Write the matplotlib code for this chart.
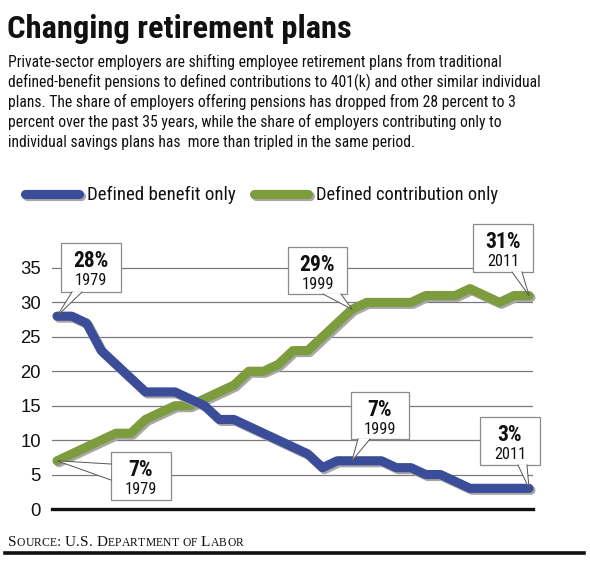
import numpy as np
import matplotlib
matplotlib.use('Agg')
import matplotlib.pyplot as plt
import matplotlib.patheffects as pe
from matplotlib.lines import Line2D
from matplotlib.patches import Rectangle, Polygon
from matplotlib import font_manager as fm

years = list(range(1979, 2012))
benefit = [28, 28, 27, 23, 21, 19, 17, 17, 17, 16, 15, 13, 13, 12, 11, 10, 9, 8, 6,
           7, 7, 7, 7, 6, 6, 5, 5, 4, 3, 3, 3, 3, 3]
contrib = [7, 8, 9, 10, 11, 11, 13, 14, 15, 15, 16, 17, 18, 20, 20, 21, 23, 23, 25,
           27, 29, 30, 30, 30, 30, 31, 31, 31, 32, 31, 30, 31, 31]
yticks = [0, 5, 10, 15, 20, 25, 30, 35]

title = 'Changing retirement plans'
body = ['Private-sector employers are shifting employee retirement plans from traditional',
        'defined-benefit pensions to defined contributions to 401(k) and other similar individual',
        'plans. The share of employers offering pensions has dropped from 28 percent to 3',
        'percent over the past 35 years, while the share of employers contributing only to',
        'individual savings plans has  more than tripled in the same period.']
legend_labels = ['Defined benefit only', 'Defined contribution only']
source_parts = ['Source:', 'U.S.', 'Department', 'of', 'Labor']

blue = '#3b4d99'
green = '#7c9c3e'

# look for a condensed sans; fall back to Liberation Sans and shrink to fit
names = {f.name for f in fm.fontManager.ttflist}
narrow, stretch = 'Liberation Sans', 'normal'
for cand in ['Liberation Sans Narrow', 'Roboto Condensed', 'DejaVu Sans Condensed', 'Open Sans Condensed']:
    if cand in names:
        narrow = cand
        break
else:
    for f in fm.fontManager.ttflist:
        if f.name in ('DejaVu Sans', 'Roboto', 'Open Sans') and f.stretch in ('condensed', 'semi-condensed'):
            narrow, stretch = f.name, f.stretch
            break

W, H = 590, 561
fig = plt.figure(figsize=(W / 100, H / 100), dpi=100)
r = fig.canvas.get_renderer()

def px(x, y):
    # figure fraction from top-left pixel coords
    return x / W, 1 - y / H

def fit(txt, width, maxsize=None):
    w = txt.get_window_extent(r).width
    size = txt.get_fontsize() * width / w
    if maxsize:
        size = min(size, maxsize)
    txt.set_fontsize(size)
    return size

def ntext(x, y, s, **kw):
    return fig.text(*px(x, y), s, family=narrow, fontstretch=stretch, color='#111111',
                    va='baseline', **kw)

# axes: x from 52 to 533 px, zero line at y=509, 6.886 px per unit
ax_left, ax_right, ax_bottom = 52, 533, 509
ppu = 6.886
ymax = 38
ax = fig.add_axes([ax_left / W, 1 - ax_bottom / H, (ax_right - ax_left) / W, ymax * ppu / H])
ppy = 14.75
ax.set_xlim(1979 - 5 / ppy, 2011 + 4 / ppy)
ax.set_ylim(0, ymax)
for s in ax.spines.values():
    s.set_visible(False)
ax.set_xticks([])
ax.set_yticks(yticks)
ax.tick_params(axis='y', length=0, pad=8, labelsize=13.3)
for lab in ax.get_yticklabels():
    lab.set_fontfamily('Liberation Sans')
    lab.set_color('#111111')
for t in yticks[1:]:
    ax.axhline(t, color='#7a7a7a', lw=0.9, zorder=1)
ax.axhline(0, color='#111111', lw=2.4, zorder=1, clip_on=False)

shadow = [pe.SimpleLineShadow(offset=(1.4, -1.4), shadow_color='#a8a8a8', alpha=1.0), pe.Normal()]
ax.plot(years, contrib, color=green, lw=6.6, solid_capstyle='round', solid_joinstyle='round',
        path_effects=shadow, zorder=3, clip_on=False)
ax.plot(years, benefit, color=blue, lw=6.6, solid_capstyle='round', solid_joinstyle='round',
        path_effects=shadow, zorder=4, clip_on=False)

# title and intro
tt = ntext(7, 38, title, fontweight='bold', fontsize=27)
fit(tt, 345)
first = ntext(8, 67, body[0], fontsize=12.6)
bsize = fit(first, 497)
for i, line in enumerate(body[1:], start=1):
    ntext(8, 67 + i * 20.1, line, fontsize=bsize)

# legend
for (x0, x1, col, lab, wd) in [(25, 79, blue, legend_labels[0], 149), (254, 308, green, legend_labels[1], 182)]:
    fig.add_artist(Line2D([x0 / W, x1 / W], [1 - 194 / H] * 2, color=col, lw=6.6,
                          solid_capstyle='round', path_effects=shadow))
    lt = ntext(x1 + 8, 199.5, lab, fontsize=15)
    fit(lt, wd)

# callout boxes: (series, year, box left, top, right, bottom, tail side, tail base a, b)
callouts = [
    (benefit, 1979, 61, 243, 121, 292, 'bottom', 72, 82),
    (contrib, 1979, 111, 452, 171, 500, 'left', 464, 480),
    (contrib, 1999, 288, 247, 347, 294, 'bottom', 323, 341),
    (contrib, 2011, 473, 224, 533, 272, 'bottom', 512, 522),
    (benefit, 1999, 351, 392, 409, 439, 'bottom', 358, 370),
    (benefit, 2011, 480, 417, 540, 465, 'bottom', 518, 527),
]
probe = ntext(0, 0, '28%', fontweight='bold', fontsize=15.5)
psize = fit(probe, 36, 15.5)
probe.remove()
probe = ntext(0, 0, '1979', fontsize=13)
ysize = fit(probe, 32, 13)
probe.remove()
for series, yr, l, t, rr, b, side, a1, a2 in callouts:
    val = series[years.index(yr)]
    tx, ty = ax.transData.transform((yr, val))
    tip = (tx / W, ty / H)
    if side == 'bottom':
        p1, p2 = px(a1, b), px(a2, b)
    else:
        p1, p2 = px(l, a1), px(l, a2)
    fig.add_artist(Rectangle(px(l, b), (rr - l) / W, (b - t) / H, facecolor='white',
                             edgecolor='#8a8a8a', lw=0.9, zorder=6))
    fig.add_artist(Polygon([p1, tip, p2], closed=True, facecolor='white', edgecolor='none', zorder=7))
    fig.add_artist(Line2D([p1[0], tip[0], p2[0]], [p1[1], tip[1], p2[1]], color='#555555',
                          lw=0.7, zorder=8))
    cx = (l + rr) / 2
    ntext(cx, t + 24, f'{val}%', fontweight='bold', fontsize=psize, ha='center', zorder=9)
    ntext(cx, t + 42, str(yr), fontsize=ysize, ha='center', zorder=9)

# source line in small caps
x = 8
for word in source_parts:
    for ch in word:
        big = ch.isupper() or not ch.isalpha()
        txt = fig.text(*px(x, 546), ch.upper(), family='Liberation Serif',
                       fontsize=11 if big else 8.4, va='baseline', color='#111111')
        x += txt.get_window_extent(r).width + 0.2
    x += 3.5
fig.add_artist(Line2D([5 / W, 584 / W], [1 - 552.5 / H] * 2, color='#111111', lw=2.6))

fig.savefig('out.png', dpi=100)
